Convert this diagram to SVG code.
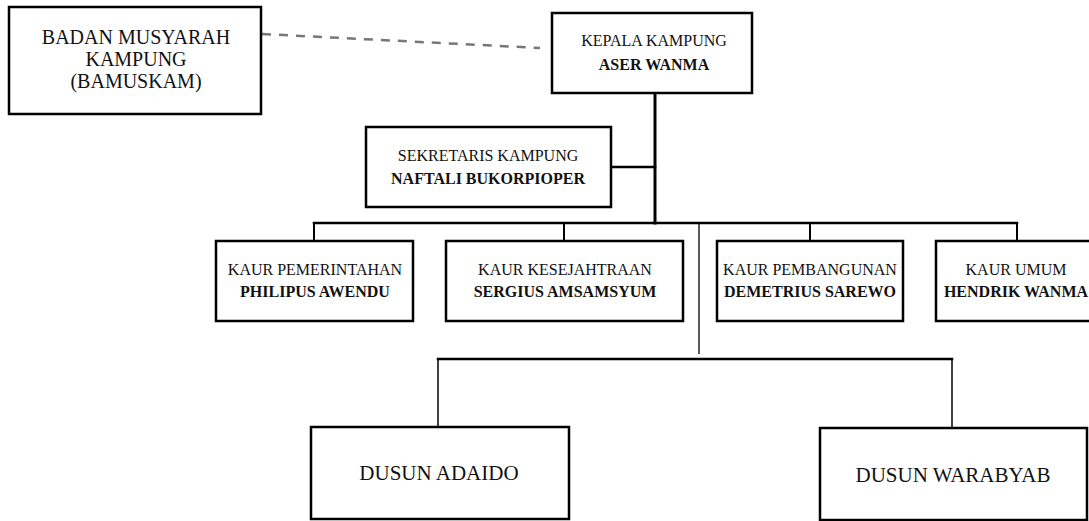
<svg xmlns="http://www.w3.org/2000/svg" width="1089" height="521" viewBox="0 0 1089 521">
<style>
.box{fill:#fff;stroke:#000;stroke-width:2.5}
.t{font-family:"Liberation Serif","Times New Roman","DejaVu Serif",serif;fill:#111;text-anchor:middle}
.s16{font-size:16px}
.s20{font-size:20px}
.s21{font-size:21px}
.b{font-weight:bold}
.c{fill:none;stroke:#000;stroke-linecap:square}
</style>
<rect width="1089" height="521" fill="#fff"/>
<g id="connectors">
<line x1="262" y1="34" x2="540" y2="48" stroke="#777" stroke-width="2.5" stroke-dasharray="9 8" fill="none"/>
<line class="c" x1="655" y1="93" x2="655" y2="223" stroke-width="3"/>
<line class="c" x1="611" y1="167" x2="655" y2="167" stroke-width="2.5"/>
<line class="c" x1="314" y1="223" x2="1017" y2="223" stroke-width="2.5"/>
<line class="c" x1="314" y1="223" x2="314" y2="241" stroke-width="2"/>
<line class="c" x1="564" y1="223" x2="564" y2="241" stroke-width="2"/>
<line class="c" x1="810" y1="223" x2="810" y2="241" stroke-width="2"/>
<line class="c" x1="1017" y1="223" x2="1017" y2="241" stroke-width="2"/>
<line x1="699" y1="223" x2="699" y2="354" stroke="#000" stroke-width="1.3"/>
<line class="c" x1="438" y1="359" x2="952" y2="359" stroke-width="2.5"/>
<line x1="438" y1="359" x2="438" y2="427" stroke="#000" stroke-width="1.5"/>
<line x1="952" y1="359" x2="952" y2="428" stroke="#000" stroke-width="1.5"/>
</g>
<g id="bamuskam">
<rect class="box" x="9" y="7" width="252" height="107"/>
<text class="t s20" x="136" y="44">BADAN MUSYARAH</text>
<text class="t s20" x="136" y="66">KAMPUNG</text>
<text class="t s20" x="136" y="88">(BAMUSKAM)</text>
</g>
<g id="kepala">
<rect class="box" x="552" y="13" width="200" height="80"/>
<text class="t s16" x="654" y="46">KEPALA KAMPUNG</text>
<text class="t s16 b" x="654" y="70">ASER WANMA</text>
</g>
<g id="sekretaris">
<rect class="box" x="366" y="127" width="245" height="80"/>
<text class="t s16" x="488" y="161">SEKRETARIS KAMPUNG</text>
<text class="t s16 b" x="488" y="184">NAFTALI BUKORPIOPER</text>
</g>
<g id="kaur-pemerintahan">
<rect class="box" x="216" y="241" width="197" height="80"/>
<text class="t s16" x="315" y="275">KAUR PEMERINTAHAN</text>
<text class="t s16 b" x="315" y="297">PHILIPUS AWENDU</text>
</g>
<g id="kaur-kesejahtraan">
<rect class="box" x="446" y="241" width="237" height="80"/>
<text class="t s16" x="565" y="275">KAUR KESEJAHTRAAN</text>
<text class="t s16 b" x="565" y="297">SERGIUS AMSAMSYUM</text>
</g>
<g id="kaur-pembangunan">
<rect class="box" x="717" y="241" width="186" height="80"/>
<text class="t s16" x="810" y="275">KAUR PEMBANGUNAN</text>
<text class="t s16 b" x="810" y="297">DEMETRIUS SAREWO</text>
</g>
<g id="kaur-umum">
<rect class="box" x="936" y="241" width="160" height="80"/>
<text class="t s16" x="1016" y="275">KAUR UMUM</text>
<text class="t s16 b" x="1016" y="297">HENDRIK WANMA</text>
</g>
<g id="dusun-adaido">
<rect class="box" x="311" y="427" width="258" height="92"/>
<text class="t s21" x="439" y="480">DUSUN ADAIDO</text>
</g>
<g id="dusun-warabyab">
<rect class="box" x="820" y="428" width="267" height="92"/>
<text class="t s21" x="953" y="482">DUSUN WARABYAB</text>
</g>
</svg>
